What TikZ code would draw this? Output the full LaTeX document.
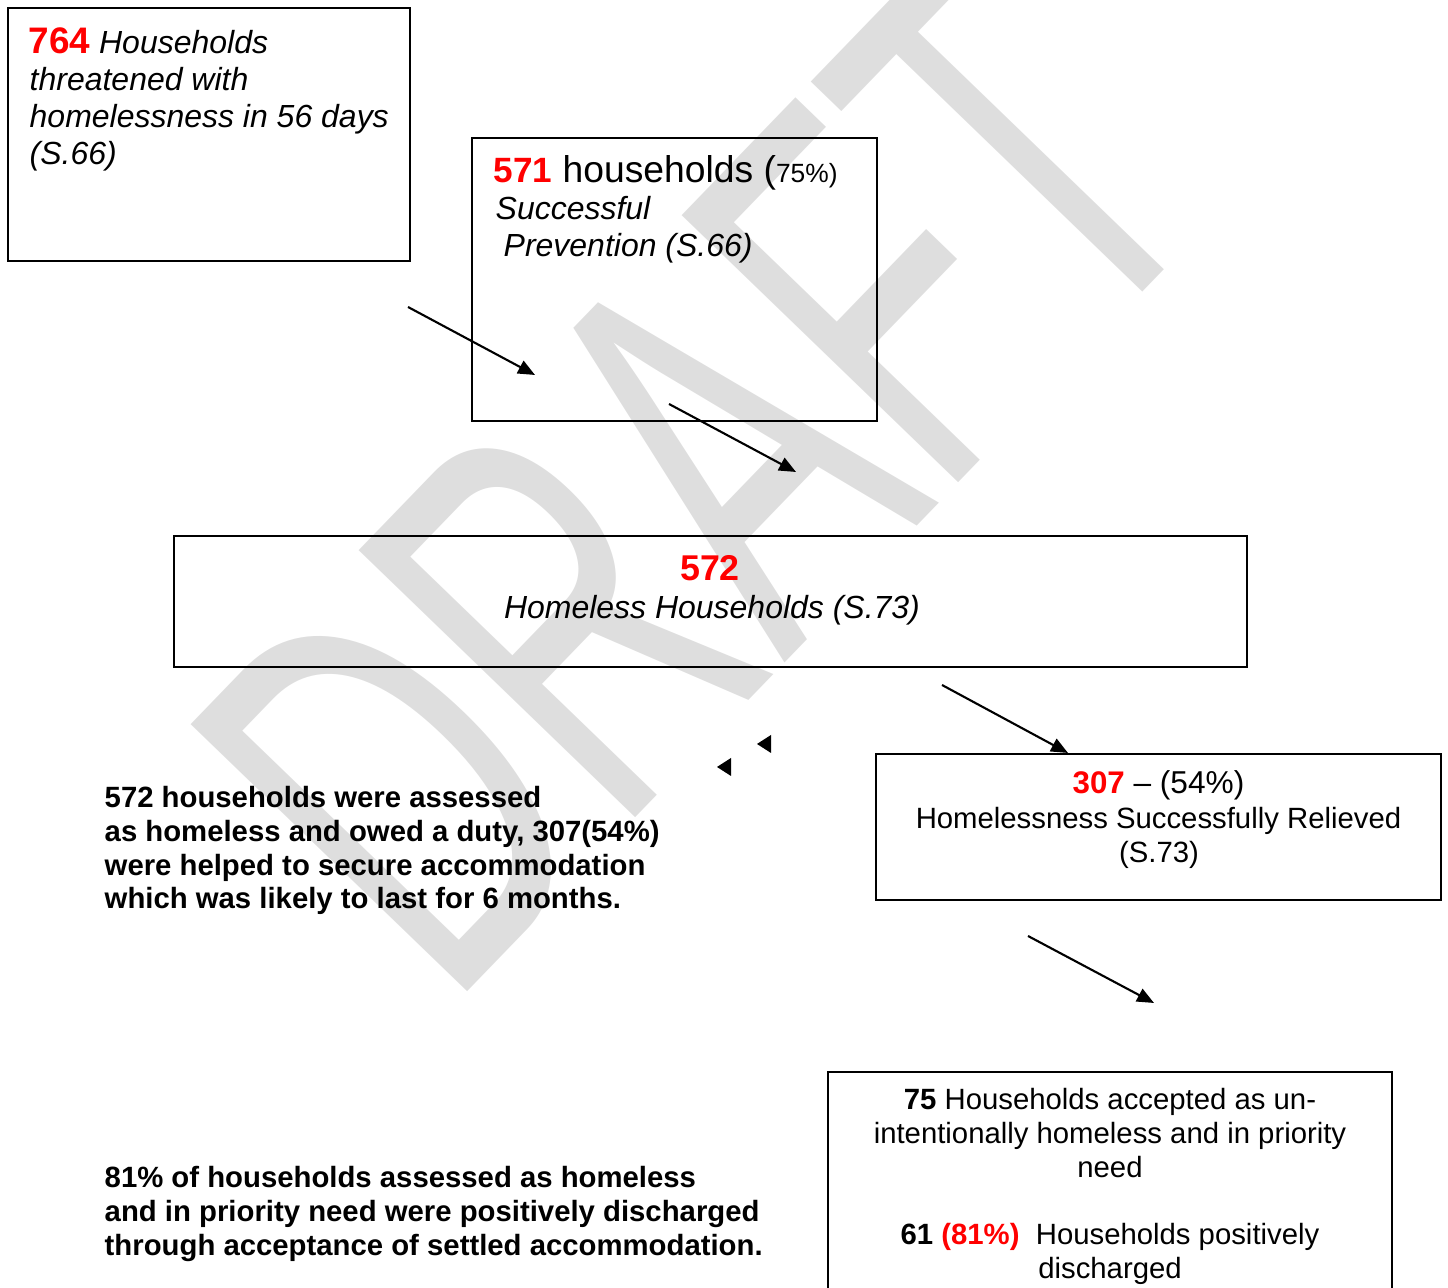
\documentclass[tikz,border=0pt]{standalone}
\usepackage{fontspec}
\setmainfont{Liberation Sans}
\usepackage{graphicx}
\usetikzlibrary{arrows.meta}
\definecolor{hotred}{RGB}{255,0,0}
\definecolor{wmgrey}{RGB}{222,222,222}
\newcommand{\hot}[2]{{\fontsize{#1}{#1}\selectfont\upshape\bfseries\color{hotred}#2}}
\tikzset{
	box/.style={draw,line width=.6pt,inner sep=0pt},
	flow/.style={line width=.6pt,-{Triangle[length=4.8pt,width=4pt]}},
	lft/.style={anchor=base west,inner sep=0pt},
	mid/.style={anchor=base,inner sep=0pt},
	body/.style={font=\fontsize{8.34}{10}\selectfont},
	bold/.style={font=\fontsize{8.34}{10}\selectfont\bfseries},
	slant/.style={font=\fontsize{#1}{10}\selectfont\itshape},
}

\begin{document}
\begin{tikzpicture}
	\useasboundingbox(0,0)rectangle(14.48,12.88);
	% watermark
	\node[rotate=46,text=wmgrey,inner sep=0pt,font=\fontsize{159}{159}\selectfont](draft)at(6.98,8.12){\scalebox{0.6}[1]{DRAFT}};
	% boxes
	\node[box,minimum width=4.02cm,minimum height=2.53cm](threat)at(2.09,11.535){};
	\node[box,minimum width=4.05cm,minimum height=2.83cm](prevent)at(6.745,10.085){};
	\node[box,minimum width=10.73cm,minimum height=1.31cm](homeless)at(7.105,6.865){};
	\node[box,minimum width=5.65cm,minimum height=1.46cm](relieved)at(11.585,4.61){};
	\node[box,minimum width=5.64cm,minimum height=2.46cm](accepted)at(11.10,0.93){};
	% texts in the boxes
	\node[lft,slant=9.1](t1a)at(0.28,12.34){\hot{10.5}{764} Households};
	\node[lft,slant=9.1](t1b)at(0.29,11.97){threatened with};
	\node[lft,slant=9.1](t1c)at(0.29,11.60){homelessness in 56 days};
	\node[lft,slant=9.1](t1d)at(0.29,11.23){(S.66)};
	\node[lft,font=\fontsize{10.6}{10}\selectfont](t2a)at(4.93,11.05){\hot{10}{571} households ({\fontsize{7.5}{8}\selectfont 75\%)}};
	\node[lft,slant=9.1](t2b)at(4.95,10.68){Successful};
	\node[lft,slant=9.1](t2c)at(5.03,10.31){Prevention (S.66)};
	\node[mid](t3a)at(7.10,7.07){\hot{10.2}{572}};
	\node[mid,slant=9.1](t3b)at(7.12,6.69){Homeless Households (S.73)};
	\node[mid,font=\fontsize{9}{10}\selectfont](t4a)at(11.585,4.94){\hot{8.9}{307} -- (54\%)};
	\node[mid,body](t4b)at(11.585,4.59){Homelessness Successfully Relieved};
	\node[mid,body](t4c)at(11.59,4.25){(S.73)};
	\node[mid,body](t5a)at(11.10,1.78){\textbf{75} Households accepted as un-};
	\node[mid,body](t5b)at(11.10,1.44){intentionally homeless and in priority};
	\node[mid,body](t5c)at(11.10,1.10){need};
	\node[mid,body](t5d)at(11.10,0.43){\textbf{61} \textbf{\color{hotred}(81\%)}\ \ Households positively};
	\node[mid,body](t5e)at(11.10,0.09){discharged};
	% notes
	\node[lft,bold](n1a)at(1.04,4.80){572 households were assessed};
	\node[lft,bold](n1b)at(1.04,4.46){as homeless and owed a duty, 307(54\%)};
	\node[lft,bold](n1c)at(1.04,4.12){were helped to secure accommodation};
	\node[lft,bold](n1d)at(1.04,3.79){which was likely to last for 6 months.};
	\node[lft,bold](n2a)at(1.04,1.00){81\% of households assessed as homeless};
	\node[lft,bold](n2b)at(1.04,0.66){and in priority need were positively discharged};
	\node[lft,bold](n2c)at(1.04,0.32){through acceptance of settled accommodation.};
	% arrows
	\coordinate(a1s)at(4.08,9.81);\coordinate(a1e)at(5.35,9.13);
	\coordinate(a2s)at(6.69,8.84);\coordinate(a2e)at(7.96,8.16);
	\coordinate(a3s)at(9.42,6.03);\coordinate(a3e)at(10.68,5.35);
	\coordinate(a4s)at(10.28,3.52);\coordinate(a4e)at(11.54,2.85);
	\draw[flow](a1s)--(a1e);
	\draw[flow](a2s)--(a2e);
	\draw[flow](a3s)--(a3e);
	\draw[flow](a4s)--(a4e);
	\fill(7.17,5.21)--(7.31,5.30)--(7.31,5.12)--cycle;
	\fill(7.57,5.44)--(7.71,5.53)--(7.71,5.35)--cycle;
\end{tikzpicture}
\end{document}
